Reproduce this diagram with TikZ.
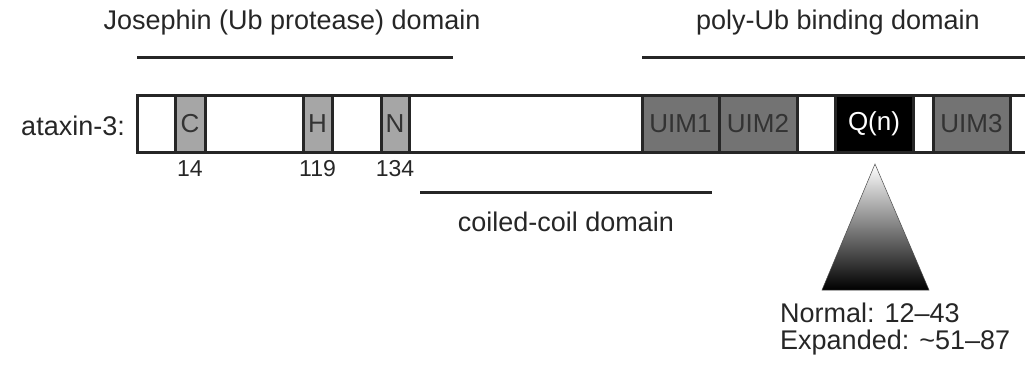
\documentclass[tikz,border=0pt]{standalone}
\usepackage{fontspec}
\setmainfont{Liberation Sans}
\begin{document}
\begin{tikzpicture}[x=1pt,y=-1pt,
  txt/.style={text=black!85, font=\fontsize{27}{32}\selectfont, inner sep=0pt},
  num/.style={txt, font=\fontsize{23}{28}\selectfont},
  dom/.style={draw=black!85, line width=3pt, minimum height=57pt, inner sep=0pt, anchor=center, text=black!80, font=\fontsize{26}{32}\selectfont},
  cys/.style={dom, fill=black!35},
  uim/.style={dom, fill=black!55},
  rule/.style={draw=black!85, line width=3pt}]
\useasboundingbox (0,0) rectangle (1025,365);
% bar
\node[dom, fill=white, minimum width=920pt, anchor=west] (bar) at (136,123.5) {};
\node[cys, minimum width=30pt] (C) at (190,123.5) {C};
\node[cys, minimum width=29pt] (H) at (317.5,123.5) {H};
\node[cys, minimum width=28pt] (N) at (395,123.5) {N};
\node[uim, minimum width=77pt] (U1) at (680.5,123.5) {UIM1};
\node[uim, minimum width=78pt] (U2) at (758,123.5) {UIM2};
\node[dom, fill=black, text=white, minimum width=78pt] (Q) at (874,123.5) {Q(n)};
\node[uim, minimum width=77pt] (U3) at (971.5,123.5) {UIM3};
\node[txt, anchor=east] (lab) at (125,126) {ataxin-3:};
\node[num] (n14) at (190,169) {14};
\node[num] (n119) at (317.5,169) {119};
\node[num] (n134) at (395,169) {134};
% domains
\coordinate (j1) at (137,57); \coordinate (j2) at (453,57);
\draw[rule] (j1) -- (j2);
\node[txt] (jt) at (292,23) {Josephin (Ub protease) domain};
\coordinate (p1) at (642,57); \coordinate (p2) at (1030,57);
\draw[rule] (p1) -- (p2);
\node[txt] (pt) at (838,23) {poly-Ub binding domain};
\coordinate (c1) at (420,192); \coordinate (c2) at (712,192);
\draw[rule] (c1) -- (c2);
\node[txt] (ct) at (566,222) {coiled-coil domain};
% triangle
\shade[top color=white, bottom color=black, draw=black!70, line width=0.5pt]
  (875,164) -- (929,290) -- (822,290) -- cycle;
\node[txt, anchor=north west, align=left, font=\fontsize{27}{26.5}\selectfont] (range) at (780,303)
  {Normal: 12–43\\Expanded: \textasciitilde51–87};
\end{tikzpicture}
\end{document}
